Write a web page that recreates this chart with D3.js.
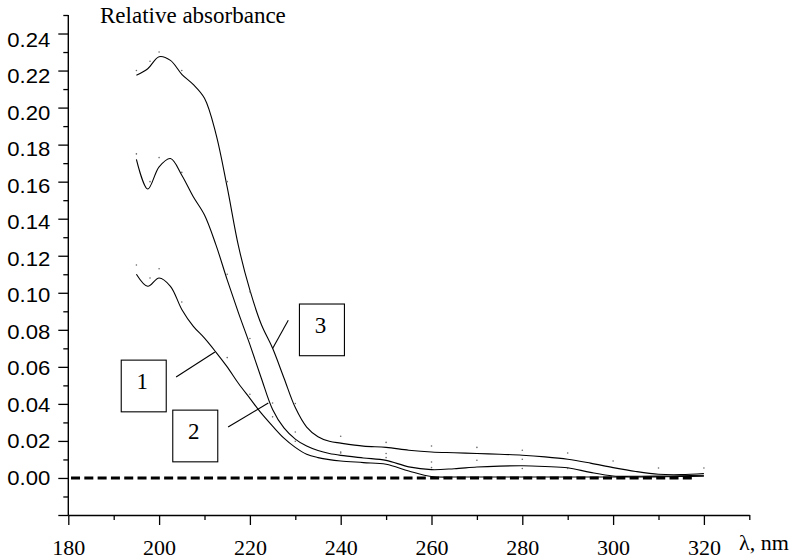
<!DOCTYPE html>
<html>
<head>
<meta charset="utf-8">
<script src="https://cdn.jsdelivr.net/npm/d3@7"></script>
<style>
  body { margin: 0; background: #fff; }
  svg { display: block; }
</style>
</head>
<body>
<div id="chart"></div>
<script>
// wavelengths (nm) where the smoothed curves were read
const wavelengths = [195, 197.5, 200, 202.5, 205, 207.5, 210, 212.5, 215, 217.5, 220, 222.5, 225, 227.5,
    230, 232.5, 235, 237.5, 240, 245, 250, 255, 260, 265, 270, 275, 280, 285, 290, 295, 300, 305, 310, 315, 320];

const curve1 = [0.110, 0.1035, 0.108, 0.1035, 0.091, 0.082, 0.0755, 0.068, 0.060, 0.051, 0.043, 0.035, 0.028, 0.0215,
    0.0165, 0.0128, 0.011, 0.0099, 0.0092, 0.0083, 0.0074, 0.0038, 0.0008, 0.0005, 0.0005, 0.0005, 0.0005, 0.0005, 0.0005, 0.0005, 0.0005, 0.0005, 0.0006, 0.0008, 0.001];
const curve2 = [0.172, 0.156, 0.168, 0.1725, 0.1635, 0.152, 0.142, 0.126, 0.107, 0.089, 0.072, 0.054, 0.037, 0.027,
    0.021, 0.0172, 0.0148, 0.0132, 0.0122, 0.0108, 0.0095, 0.006, 0.0045, 0.005, 0.0059, 0.0064, 0.0066, 0.0062, 0.0055, 0.003, 0.0011, 0.0009, 0.001, 0.0012, 0.0015];
const curve3 = [0.2175, 0.221, 0.2275, 0.2255, 0.218, 0.2125, 0.205, 0.186, 0.157, 0.125, 0.1014, 0.083, 0.0700, 0.054,
    0.038, 0.0275, 0.0223, 0.0198, 0.0188, 0.0172, 0.0165, 0.015, 0.014, 0.0136, 0.0132, 0.0128, 0.0123, 0.0114, 0.0101, 0.008, 0.0056, 0.0035, 0.002, 0.0018, 0.0024];

// measured points (faint dots)
const dotWavelengths = [195, 198, 200, 205, 215, 220, 225, 230, 240, 250, 260, 270, 280, 290, 300, 310, 320];
const dots1 = [0.115, 0.108, 0.113, 0.095, 0.065, 0.0452, 0.033, 0.0198, 0.0135, 0.011, 0.0056, null, 0.0051, null, null, null, null];
const dots2 = [0.175, 0.160, 0.173, 0.165, 0.110, 0.0753, 0.0405, 0.0248, 0.014, 0.0132, 0.0086, 0.0096, 0.0101, 0.0051, null, null, null];
const dots3 = [0.220, 0.225, 0.230, 0.220, 0.160, 0.1005, null, 0.0402, 0.0225, 0.0192, 0.0173, 0.0165, 0.015, 0.0135, 0.0092, 0.0054, 0.0054];

const xTicks = [180, 200, 220, 240, 260, 280, 300, 320];
const xMinor = [190, 210, 230, 250, 270, 290, 310, 330];
const yTicks = [-0.02, 0.00, 0.02, 0.04, 0.06, 0.08, 0.10, 0.12, 0.14, 0.16, 0.18, 0.20, 0.22, 0.24];
const yMinor = [-0.01, 0.01, 0.03, 0.05, 0.07, 0.09, 0.11, 0.13, 0.15, 0.17, 0.19, 0.21, 0.23, 0.25];

// annotation boxes: top-left corner and leader line, in data units
const labels = [
    { name: "1", box: [191.55, 0.0639], from: [203.75, 0.0545], to: [212.3, 0.068] },
    { name: "2", box: [202.9, 0.0369], from: [215.2, 0.0275], to: [224.05, 0.0405] },
    { name: "3", box: [230.8, 0.0942], from: [228.45, 0.0852], to: [225.0, 0.0699] }
];

const width = 795, height = 559;
const serif = "'Liberation Serif', 'Times New Roman', serif";
const sans = "'Liberation Sans', Arial, sans-serif";

const svg = d3.select("#chart").append("svg")
    .attr("width", width)
    .attr("height", height);

const x = d3.scaleLinear().domain([180, 330]).range([68.3, 749.3]);
const y = d3.scaleLinear().domain([-0.02, 0.25]).range([515, 15]);
// tick labels drift a little from the ticks in the original
const labelY = d3.scaleLinear().domain([0, 0.24]).range([y(0), y(0.24) + 6.5]);

// x axis
const xAxis = svg.append("g")
    .attr("transform", "translate(0," + y(-0.02) + ")")
    .call(d3.axisBottom(x).tickValues(xTicks).tickSize(10).tickSizeOuter(0).tickFormat(d3.format("d")));
xAxis.append("g").call(d3.axisBottom(x).tickValues(xMinor).tickSize(5).tickFormat(""))
    .select(".domain").remove();
xAxis.selectAll(".domain").attr("stroke-width", 1.4);
xAxis.selectAll("line").attr("stroke-width", 1.3);
xAxis.selectAll(".tick text")
    .attr("y", 40).attr("dy", 0)
    .style("font-family", serif).style("font-size", "22px").attr("fill", "#000");

// y axis
const yAxis = svg.append("g")
    .attr("transform", "translate(" + x(180) + ",0)")
    .call(d3.axisLeft(y).tickValues(yTicks).tickSize(10).tickSizeOuter(0).tickPadding(8)
        .tickFormat(d => d < 0 ? "" : d3.format(".2f")(d)));
yAxis.append("g").call(d3.axisLeft(y).tickValues(yMinor).tickSize(5).tickFormat(""))
    .select(".domain").remove();
yAxis.select(".domain").attr("d", "M0," + y(0.25) + "V" + y(-0.02)).attr("stroke-width", 1.4);
yAxis.selectAll("line").attr("stroke-width", 1.3);
yAxis.selectAll(".tick text")
    .filter(d => d >= 0)
    .attr("y", d => labelY(d) - y(d))
    .attr("textLength", 43)
    .attr("lengthAdjust", "spacingAndGlyphs")
    .style("font-family", sans).style("font-size", "20px").attr("fill", "#000");

// axis titles
svg.append("text")
    .attr("x", 100).attr("y", 23)
    .style("font-family", serif).style("font-size", "23px")
    .text("Relative absorbance");

svg.append("text")
    .attr("x", 739).attr("y", 550)
    .style("font-family", serif).style("font-size", "22px")
    .text("λ, nm");

// zero line
svg.append("line")
    .attr("x1", x(180.6)).attr("x2", x(317.7))
    .attr("y1", y(0)).attr("y2", y(0))
    .attr("stroke", "#000")
    .attr("stroke-width", 3)
    .attr("stroke-dasharray", "9,4.3");

// curves
const line = d3.line()
    .x(d => x(d[0]))
    .y(d => y(d[1]))
    .curve(d3.curveCatmullRom.alpha(0.5));

[curve1, curve2, curve3].forEach(function(series) {
    svg.append("path")
        .datum(wavelengths.map((w, i) => [w, series[i]]))
        .attr("d", line)
        .attr("fill", "none")
        .attr("stroke", "#000")
        .attr("stroke-width", 1.1);
});

// measured points
[dots1, dots2, dots3].forEach(function(series) {
    svg.append("g").selectAll("circle")
        .data(dotWavelengths.map((w, i) => [w, series[i]]).filter(d => d[1] !== null))
        .join("circle")
        .attr("cx", d => x(d[0]))
        .attr("cy", d => y(d[1]))
        .attr("r", 0.8)
        .attr("fill", "#666");
});

// numbered boxes with leader lines
const boxW = 45, boxH = 51.7;
labels.forEach(function(l) {
    svg.append("line")
        .attr("x1", x(l.from[0])).attr("y1", y(l.from[1]))
        .attr("x2", x(l.to[0])).attr("y2", y(l.to[1]))
        .attr("stroke", "#000").attr("stroke-width", 1.1);

    const bx = x(l.box[0]), by = y(l.box[1]);
    svg.append("rect")
        .attr("x", bx + 0.5).attr("y", by + 0.5)
        .attr("width", boxW).attr("height", boxH)
        .attr("fill", "none")
        .attr("stroke", "#000").attr("stroke-width", 1.1);
    svg.append("text")
        .attr("x", bx + 21.5).attr("y", by + boxH / 2 + 3.5)
        .attr("text-anchor", "middle")
        .style("font-family", serif).style("font-size", "23px")
        .text(l.name);
});
</script>
</body>
</html>
